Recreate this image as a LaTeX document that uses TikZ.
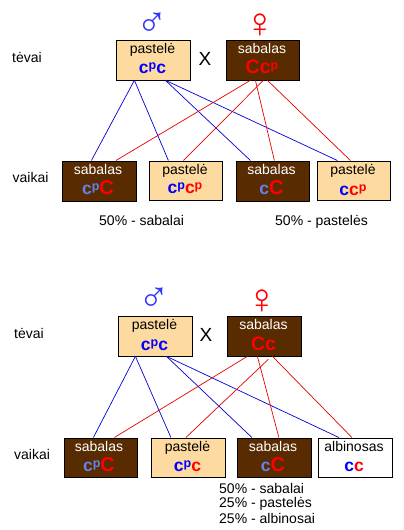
\documentclass[tikz,border=0pt]{standalone}
\usepackage{fontspec}
\setmainfont{Liberation Sans}
\begin{document}
\begin{tikzpicture}[x=1pt,y=-1pt,
  box/.style={draw=black,line width=0.8pt,anchor=north west,inner sep=0pt},
  pastel/.style={box,fill=pastelc},
  dark/.style={box,fill=darkc},
  white box/.style={box,fill=white},
  blueln/.style={draw=blue!85!black,line width=0.7pt},
  redln/.style={draw=red!90!black,line width=0.7pt},
  lab/.style={font=\fontsize{14}{14}\selectfont,text=black,inner sep=0pt,anchor=base},
  wlab/.style={font=\fontsize{14}{14}\selectfont,text=white,inner sep=0pt,anchor=base},
  side/.style={font=\fontsize{14}{14}\selectfont,text=black,inner sep=0pt,anchor=base west},
  geno/.style={font=\fontsize{17.5}{18}\selectfont\bfseries,inner sep=0pt,anchor=base},
  bigno/.style={font=\fontsize{19.5}{20}\selectfont\bfseries,inner sep=0pt,anchor=base},
  sym/.style={inner sep=0pt,font=\fontsize{42}{42}\selectfont},
]
\definecolor{pastelc}{RGB}{253,219,160}
\definecolor{darkc}{RGB}{88,44,0}
\definecolor{lb}{RGB}{100,130,235}
\newcommand{\B}[1]{\textcolor{blue}{#1}}
\newcommand{\R}[1]{\textcolor{red}{#1}}
\newcommand{\LB}[1]{\textcolor{lb}{#1}}
\newcommand{\Sp}[1]{\raisebox{3.6pt}{\fontsize{12.5}{13}\selectfont #1}}
\newcommand{\Cb}{\fontsize{20}{20}\selectfont C}
\useasboundingbox (0,0) rectangle (404,530);
% top parents
\node[pastel,minimum width=74pt,minimum height=40pt] (p1) at (115.5,39.5) {};
\node[dark,minimum width=73pt,minimum height=40pt] (p2) at (225.5,39.5) {};
% top children
\node[dark,minimum width=74pt,minimum height=40pt] (c1) at (61.5,160.5) {};
\node[pastel,minimum width=73pt,minimum height=39pt] (c2) at (148.5,160.5) {};
\node[dark,minimum width=73pt,minimum height=40pt] (c3) at (235.5,160.5) {};
\node[pastel,minimum width=73pt,minimum height=39pt] (c4) at (316.5,160.5) {};
% bottom parents
\node[pastel,minimum width=74pt,minimum height=40pt] (q1) at (117.5,315.5) {};
\node[dark,minimum width=74pt,minimum height=40pt] (q2) at (226.5,315.5) {};
% bottom children
\node[dark,minimum width=73pt,minimum height=39pt] (d1) at (63.5,437.5) {};
\node[pastel,minimum width=74pt,minimum height=39pt] (d2) at (150.5,437.5) {};
\node[dark,minimum width=74pt,minimum height=39pt] (d3) at (236.5,437.5) {};
\node[white box,minimum width=74pt,minimum height=39pt] (d4) at (317.5,437.5) {};
% connectors top
\draw[blueln] ([xshift=-18.5pt]p1.south) -- ([xshift=-7.5pt]c1.north);
\draw[blueln] ([xshift=-18.5pt]p1.south) -- ([xshift=-17pt]c2.north);
\draw[blueln] ([xshift=12.5pt]p1.south) -- ([xshift=-22pt]c3.north);
\draw[blueln] ([xshift=12.5pt]p1.south) -- ([xshift=-16pt]c4.north);
\draw[redln] ([xshift=-12pt]p2.south) -- ([xshift=17pt]c1.north);
\draw[redln] ([xshift=1pt]p2.south) -- ([xshift=-2pt]c2.north);
\draw[redln] ([xshift=-7pt]p2.south) -- ([xshift=2pt]c3.north);
\draw[redln] ([xshift=5pt]p2.south) -- ([xshift=-3pt]c4.north);
% connectors bottom
\draw[blueln] ([xshift=-19.5pt]q1.south) -- ([xshift=-7pt]d1.north);
\draw[blueln] ([xshift=-19.5pt]q1.south) -- ([xshift=-17pt]d2.north);
\draw[blueln] ([xshift=11.5pt]q1.south) -- ([xshift=-22pt]d3.north);
\draw[blueln] ([xshift=11.5pt]q1.south) -- ([xshift=-16pt]d4.north);
\draw[redln] ([xshift=-16.5pt]q2.south) -- ([xshift=14pt]d1.north);
\draw[redln] ([xshift=4.5pt,yshift=-3pt]q2.south) -- ([xshift=-2pt]d2.north);
\draw[redln] ([xshift=-6.5pt]q2.south) -- ([xshift=5pt]d3.north);
\draw[redln] ([xshift=8.5pt]q2.south) -- ([xshift=-3pt]d4.north);
% box text
\node[lab] (t1) at (152.5,53) {pastelė};
\node[geno] (g1) at (152.5,73) {\B{c\Sp{p}c}};
\node[wlab] (t2) at (262,53) {sabalas};
\node[bigno] (g2) at (262,73) {\R{Cc\Sp{p}}};
\node[wlab] (t3) at (98,174) {sabalas};
\node[geno] (g3) at (98,194) {\LB{c\Sp{p}}\R{\Cb}};
\node[lab] (t4) at (185,174) {pastelė};
\node[geno] (g4) at (185,193) {\B{c\Sp{p}}\R{c\Sp{p}}};
\node[wlab] (t5) at (271.5,174) {sabalas};
\node[geno] (g5) at (271.5,194) {\LB{c}\R{\Cb}};
\node[lab] (t6) at (353,174) {pastelė};
\node[geno] (g6) at (353,195) {\B{c}\R{c\Sp{p}}};
\node[lab] (t7) at (154.5,329) {pastelė};
\node[geno] (g7) at (154.5,350) {\B{c\Sp{p}c}};
\node[wlab] (t8) at (263.5,329) {sabalas};
\node[bigno] (g8) at (263.5,350) {\R{Cc}};
\node[wlab] (t9) at (99,451) {sabalas};
\node[geno] (g9) at (99,471) {\LB{c\Sp{p}}\R{\Cb}};
\node[lab] (t10) at (187.5,451) {pastelė};
\node[geno] (g10) at (187.5,471) {\B{c\Sp{p}}\R{c}};
\node[wlab] (t11) at (273,451) {sabalas};
\node[geno] (g11) at (273,471) {\LB{c}\R{\Cb}};
\node[lab] (t12) at (354,451) {albinosas};
\node[geno] (g12) at (354,471) {\B{c}\R{c}};
% side labels
\node[side] (s1) at (12,62) {tėvai};
\node[side] (s2) at (12.5,182) {vaikai};
\node[side] (s3) at (14,338) {tėvai};
\node[side] (s4) at (14,459) {vaikai};
% X
\node[inner sep=0pt,font=\fontsize{19}{19}\selectfont] (x1) at (205,58.5) {X};
\node[inner sep=0pt,font=\fontsize{19}{19}\selectfont] (x2) at (206,334.5) {X};
% summaries
\node[side] (r1) at (99,225) {50\% - sabalai};
\node[side] (r2) at (275,225) {50\% - pastelės};
\node[side] (r3) at (219,493) {50\% - sabalai};
\node[side] (r4) at (219,507) {25\% - pastelės};
\node[side] (r5) at (219,523) {25\% - albinosai};
% symbols
\node[sym,text=blue!80!white] (m1) at (152,24.5) {♂};
\node[sym,text=red] (f1) at (260,26) {♀};
\node[sym,text=blue!80!white] (m2) at (154,300) {♂};
\node[sym,text=red] (f2) at (262,301.5) {♀};
\end{tikzpicture}
\end{document}
